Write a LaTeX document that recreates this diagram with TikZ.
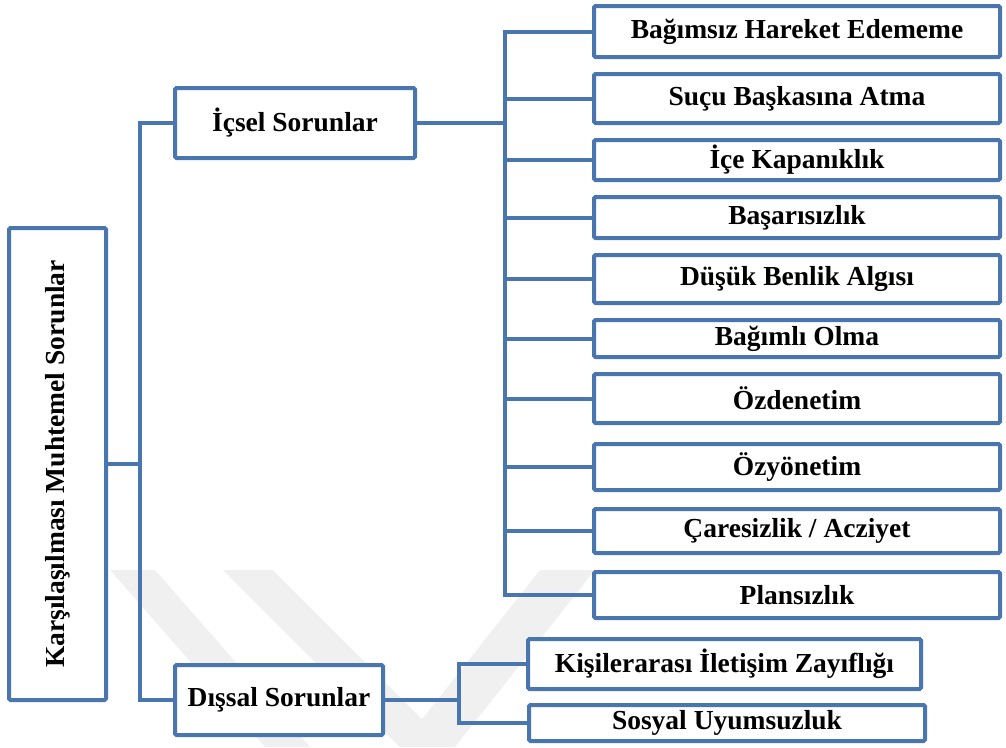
\documentclass[tikz,border=0pt]{standalone}
\usepackage{fontspec}
\setmainfont{Liberation Serif}
\definecolor{boxblue}{HTML}{4A76AF}
\definecolor{wmgrey}{HTML}{F0F0F0}
\begin{document}
\begin{tikzpicture}[x=1pt,y=-1pt,
  box/.style={draw=boxblue,line width=4pt,fill=white,rounded corners=1.5pt,
    inner sep=0pt,font=\bfseries\fontsize{27.5}{30}\selectfont},
  link/.style={draw=boxblue,line width=4pt,line join=miter}]
\useasboundingbox (0,0) rectangle (1006,747);
% faint background chevron
\fill[wmgrey] (110,570) -- (155,570) -- (310,747) -- (265,747) -- cycle;
\fill[wmgrey] (223,570) -- (273,570) -- (450,747) -- (400,747) -- cycle;
\fill[wmgrey] (540,570) -- (595,570) -- (455,747) -- (400,747) -- cycle;
% root
\node[box,minimum width=97pt,minimum height=472pt] (root) at (57.5,464)
  {\rotatebox{90}{Karşılaşılması Muhtemel Sorunlar}};
% second level
\node[box,minimum width=240pt,minimum height=70pt] (ic) at (295,123) {İçsel Sorunlar};
\node[box,minimum width=208pt,minimum height=70pt] (dis) at (279,700) {Dışsal Sorunlar};
% internal problems
\node[box,minimum width=406pt,minimum height=51pt] (a1) at (797,31.5) {Bağımsız Hareket Edememe};
\node[box,minimum width=406pt,minimum height=49pt] (a2) at (797,98.5) {Suçu Başkasına Atma};
\node[box,minimum width=406pt,minimum height=40pt] (a3) at (797,160) {İçe Kapanıklık};
\node[box,minimum width=406pt,minimum height=41pt] (a4) at (797,217.5) {Başarısızlık};
\node[box,minimum width=406pt,minimum height=48pt] (a5) at (797,279) {Düşük Benlik Algısı};
\node[box,minimum width=406pt,minimum height=37pt] (a6) at (797,338.5) {Bağımlı Olma};
\node[box,minimum width=406pt,minimum height=49pt] (a7) at (797,398.5) {Özdenetim};
\node[box,minimum width=406pt,minimum height=46pt] (a8) at (797,467) {Özyönetim};
\node[box,minimum width=406pt,minimum height=44pt] (a9) at (797,531) {Çaresizlik / Acziyet};
\node[box,minimum width=406pt,minimum height=46pt] (a10) at (797,595) {Plansızlık};
% external problems
\node[box,minimum width=393pt,minimum height=50pt] (b1) at (724.5,664) {Kişilerarası İletişim Zayıflığı};
\node[box,minimum width=396pt,minimum height=36pt] (b2) at (727,723) {Sosyal Uyumsuzluk};
% trunk positions
\coordinate (t1) at (140,0);
\coordinate (t2) at (505,0);
\coordinate (t3) at (459,0);
% root to second level
\draw[link] (root.east) -- (root.east -| t1);
\draw[link] (ic.west) -- (ic.west -| t1) -- (dis.west -| t1) -- (dis.west);
% internal branch
\draw[link] (ic.east) -- (ic.east -| t2);
\draw[link] (a1.west) -- (a1.west -| t2) -- (a10.west -| t2) -- (a10.west);
\foreach \n in {a2,a3,a4,a5,a6,a7,a8,a9}
  \draw[link] (\n.west -| t2) -- (\n.west);
% external branch
\draw[link] (dis.east) -- (dis.east -| t3);
\draw[link] (b1.west) -- (b1.west -| t3) -- (b2.west -| t3) -- (b2.west);
\end{tikzpicture}
\end{document}
